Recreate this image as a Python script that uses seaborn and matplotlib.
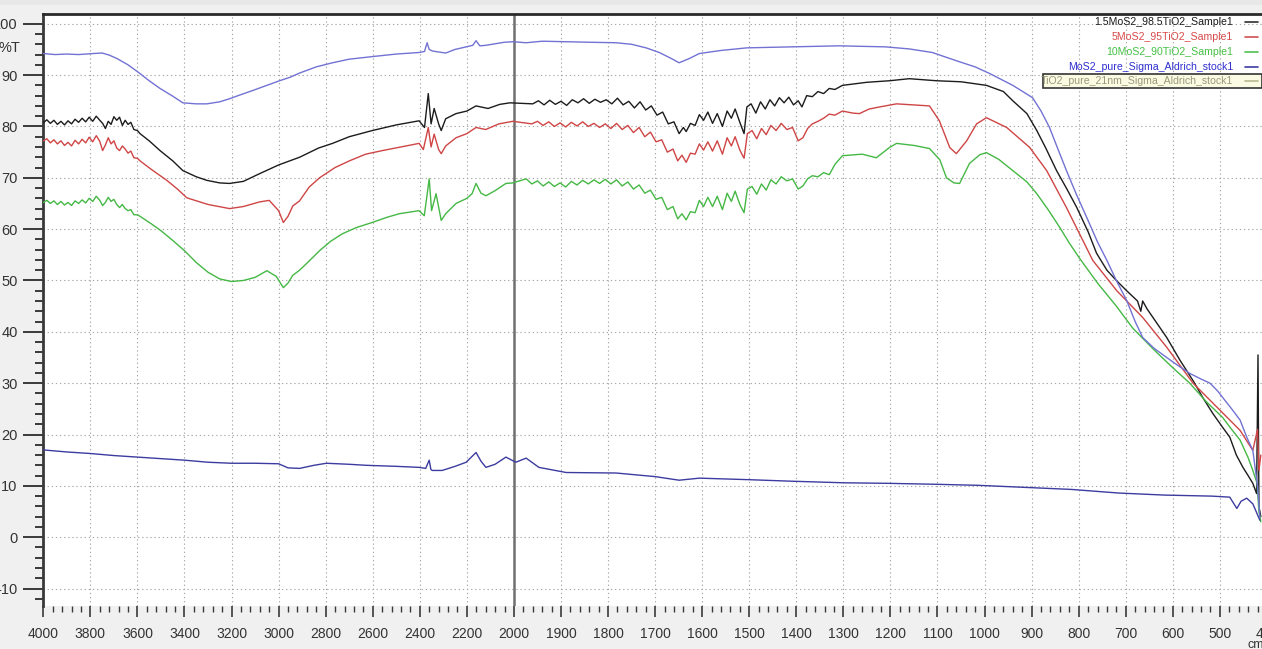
import numpy as np
import pandas as pd
import matplotlib
matplotlib.use("Agg")
import matplotlib.pyplot as plt
from matplotlib import font_manager
from matplotlib.ticker import FixedLocator, FixedFormatter
from matplotlib.lines import Line2D
from matplotlib.patches import Rectangle
import seaborn as sns

# ---------------- data ----------------
series_names = [
    "1.5MoS2_98.5TiO2_Sample1",
    "5MoS2_95TiO2_Sample1",
    "10MoS2_90TiO2_Sample1",
    "MoS2_pure_Sigma_Aldrich_stock1",
    "TiO2_pure_21nm_Sigma_Aldrich_stock1",
]

wn_black = [4000, 3985, 3970, 3955, 3940, 3925, 3910, 3895, 3880, 3865, 3850, 3835, 3820, 3805, 3790,
            3775, 3760, 3748, 3736, 3724, 3712, 3700, 3688, 3676, 3664, 3652, 3640, 3628, 3615, 3600,
            3589, 3550, 3504, 3450, 3407, 3350, 3305, 3250, 3208, 3150, 3081, 3000, 2911, 2830, 2771,
            2700, 2602, 2500, 2403, 2380, 2364, 2352, 2339, 2320, 2309, 2290, 2246, 2200, 2161, 2110,
            2060, 2017,
            1960, 1948, 1936, 1924, 1912, 1900, 1888, 1876, 1864, 1852, 1840, 1828, 1816, 1804, 1792,
            1780, 1768, 1756, 1744, 1732, 1720, 1708, 1696, 1684, 1672, 1660, 1649, 1640, 1634, 1625,
            1615, 1606, 1597, 1588, 1578, 1568, 1557, 1547, 1538, 1530, 1520, 1511, 1505, 1496, 1486,
            1476, 1466, 1456, 1446, 1436, 1426, 1416, 1406, 1396, 1388, 1378, 1366, 1354, 1342, 1330,
            1318, 1302, 1250, 1202, 1160, 1102, 1050, 996, 960, 940, 910, 889, 870, 847, 825, 804, 780,
            762, 740, 720, 698, 675, 668, 664, 655, 613, 585, 557, 535, 515, 495, 479, 465, 451, 440,
            430, 422, 419, 417, 413]
t_black = [80.7, 81.3, 80.6, 81.2, 80.4, 81.0, 80.3, 81.1, 80.5, 81.4, 80.8, 81.6, 80.9, 81.8, 81.0,
           82.0, 81.2, 80.6, 79.6, 81.0, 80.4, 81.9, 81.2, 81.8, 80.2, 81.2, 80.4, 80.8, 79.4, 79.2,
           78.6, 77.2, 75.3, 73.3, 71.4, 70.2, 69.5, 69.0, 68.9, 69.3, 70.8, 72.5, 74.0, 75.8, 76.7,
           78.0, 79.2, 80.3, 81.1, 79.8, 86.4, 80.5, 83.5, 80.5, 79.2, 81.5, 82.5, 83.0, 84.0, 83.5,
           84.3, 84.6,
           84.4, 85.0, 84.2, 85.1, 84.3, 84.9, 84.1, 85.2, 84.6, 85.4, 84.5, 85.3, 84.7, 85.2, 84.4,
           85.5, 84.2, 84.9, 83.6, 84.8, 83.2, 84.0, 82.2, 82.8, 80.5, 80.9, 78.6, 79.8, 79.0, 80.6,
           80.2, 82.3, 81.2, 82.8, 80.6, 82.5, 80.0, 83.0, 81.6, 83.4, 80.8, 78.6, 83.8, 84.4, 82.6,
           84.8, 83.4, 85.2, 84.0, 85.6, 84.6, 85.7, 84.2, 85.0, 83.8, 86.0, 85.8, 86.8, 86.4, 87.4,
           87.2, 88.0, 88.6, 88.9, 89.3, 88.9, 88.7, 88.0, 86.8, 85.0, 82.5, 79.2, 75.8, 71.4, 67.8,
           64.2, 59.5, 55.3, 52.0, 50.0, 48.0, 46.0, 44.0, 46.0, 44.5, 38.9, 34.5, 30.5, 27.0, 24.1,
           21.5, 19.5, 16.0, 13.6, 12.0, 10.5, 8.5, 35.5, 6.0, 4.0]

wn_red = [4000, 3985, 3970, 3955, 3940, 3925, 3910, 3895, 3880, 3865, 3850, 3835, 3820, 3805, 3790,
          3775, 3760, 3748, 3736, 3724, 3712, 3700, 3688, 3676, 3664, 3652, 3640, 3628, 3615, 3600,
          3589, 3540, 3475, 3430, 3390, 3300, 3208, 3150, 3081, 3040, 3000, 2980, 2960, 2940, 2911,
          2870, 2826, 2760, 2699, 2630, 2559, 2480, 2403, 2385, 2364, 2352, 2339, 2320, 2309, 2290,
          2246, 2200, 2161, 2120, 2064, 2005,
          1962, 1950, 1938, 1926, 1914, 1902, 1890, 1878, 1866, 1854, 1842, 1830, 1818, 1806, 1794,
          1782, 1770, 1758, 1746, 1734, 1722, 1710, 1698, 1686, 1674, 1662, 1652, 1643, 1634, 1625,
          1615, 1606, 1597, 1588, 1578, 1568, 1557, 1547, 1538, 1530, 1520, 1511, 1504, 1494, 1484,
          1474, 1464, 1454, 1443, 1432, 1420, 1408, 1396, 1386, 1376, 1366, 1354, 1342, 1330, 1318,
          1302, 1280, 1266, 1245, 1223, 1187, 1117, 1096, 1074, 1060, 1038, 1017, 996, 953, 904, 868,
          826, 770, 719, 664, 613, 557, 506, 457, 430, 420, 417, 413]
t_red = [77.2, 77.6, 76.8, 77.4, 76.6, 77.2, 76.3, 76.9, 76.2, 77.3, 76.6, 77.5, 76.8, 77.9, 77.0,
         78.2, 77.1, 75.3, 76.4, 77.8, 76.6, 77.2, 75.8, 75.3, 76.2, 75.6, 74.8, 75.2, 73.9, 73.8,
         73.3, 71.6, 69.5, 67.8, 66.1, 64.8, 64.0, 64.4, 65.3, 65.6, 63.6, 61.3, 62.5, 64.5, 65.5,
         68.2, 70.0, 72.0, 73.3, 74.6, 75.3, 76.0, 76.7, 75.5, 79.8, 76.0, 78.5, 75.5, 74.7, 76.2,
         77.8, 78.6, 79.8, 79.4, 80.5, 81.0,
         80.5, 81.0, 80.2, 80.9, 80.0, 80.7, 79.9, 80.8, 80.1, 80.9, 80.0, 80.6, 79.8, 80.5, 79.6,
         80.6, 79.4, 80.2, 78.8, 79.8, 78.0, 78.9, 77.0, 77.4, 75.0, 75.6, 73.3, 74.4, 73.0, 74.8,
         74.6, 76.6, 75.4, 77.0, 75.2, 77.2, 74.6, 77.8, 76.2, 78.0, 75.4, 73.8, 78.6, 79.2, 77.6,
         79.6, 78.4, 80.2, 79.2, 80.6, 79.4, 79.8, 77.2, 77.8, 79.6, 80.5, 81.0, 81.6, 82.4, 82.2,
         83.0, 82.6, 82.5, 83.4, 83.8, 84.4, 84.0, 81.1, 75.9, 74.7, 77.2, 80.5, 81.7, 79.8, 75.9, 71.4,
         64.2, 53.9, 48.0, 42.8, 37.0, 30.0, 25.3, 20.8, 16.9, 21.0, 13.0, 16.0]

wn_green = [4000, 3985, 3970, 3955, 3940, 3925, 3910, 3895, 3880, 3865, 3850, 3835, 3820, 3805, 3790,
            3775, 3760, 3748, 3736, 3724, 3712, 3700, 3688, 3676, 3664, 3652, 3640, 3628, 3615, 3600,
            3589, 3540, 3500, 3450, 3400, 3350, 3300, 3250, 3200, 3150, 3100, 3050, 3010, 2980, 2960,
            2940, 2911, 2870, 2826, 2780, 2729, 2670, 2602, 2540, 2487, 2403, 2381, 2360, 2350, 2331,
            2309, 2290, 2246, 2200, 2178, 2161, 2140, 2119, 2080, 2034, 2005,
            1974, 1962, 1950, 1938, 1926, 1914, 1902, 1890, 1878, 1866, 1854, 1842, 1830, 1818, 1806,
            1794, 1782, 1770, 1758, 1746, 1734, 1722, 1710, 1698, 1686, 1674, 1662, 1652, 1643, 1634,
            1625, 1615, 1606, 1597, 1588, 1578, 1568, 1557, 1547, 1538, 1530, 1520, 1511, 1504, 1494,
            1484, 1474, 1464, 1454, 1443, 1432, 1420, 1408, 1396, 1386, 1376, 1366, 1354, 1342, 1330,
            1318, 1302, 1260, 1230, 1202, 1187, 1150, 1117, 1095, 1081, 1065, 1053, 1032, 1010, 996,
            970, 940, 910, 889, 865, 840, 820, 798, 760, 720, 685, 640, 600, 564, 530, 494, 475, 457,
            440, 430, 421, 417, 413]
t_green = [65.2, 65.6, 65.0, 65.5, 64.8, 65.4, 64.7, 65.2, 64.6, 65.5, 65.0, 65.7, 65.1, 66.0, 65.4,
           66.4, 65.6, 64.6, 65.2, 66.2, 65.4, 65.8, 64.8, 64.2, 64.8, 64.0, 63.6, 63.8, 62.8, 62.8,
           62.5, 61.0, 59.7, 57.8, 55.8, 53.5, 51.6, 50.3, 49.8, 50.0, 50.6, 51.9, 50.8, 48.6, 49.5,
           51.0, 52.0, 53.8, 55.8, 57.6, 59.1, 60.3, 61.3, 62.3, 63.0, 63.6, 62.6, 69.8, 63.6, 66.9,
           61.7, 63.0, 65.0, 66.0, 66.9, 68.9, 67.0, 66.5, 67.5, 68.9, 69.0,
           69.8, 68.8, 69.4, 68.4, 69.2, 68.3, 69.0, 68.2, 69.3, 68.6, 69.5, 68.8, 69.6, 68.9, 69.7,
           68.8, 69.6, 68.4, 69.2, 67.8, 68.6, 67.0, 67.6, 65.8, 66.2, 63.8, 64.4, 62.0, 63.0, 61.8,
           63.4, 63.2, 65.6, 64.4, 66.2, 64.4, 66.4, 63.8, 67.0, 65.4, 67.4, 64.8, 63.2, 67.8, 68.3,
           66.8, 68.8, 67.6, 69.6, 68.8, 70.2, 69.4, 69.8, 67.8, 68.4, 69.8, 70.4, 70.2, 71.0, 70.6,
           72.6, 74.3, 74.6, 73.9, 75.9, 76.7, 76.3, 75.7, 73.5, 70.0, 69.0, 68.9, 72.8, 74.5, 74.9,
           73.6, 71.4, 69.2, 66.9, 63.8, 60.3, 57.3, 54.3, 49.5, 45.0, 40.7, 36.5, 33.0, 30.0, 26.5,
           23.3, 21.0, 18.9, 15.5, 13.0, 10.5, 5.0, 3.0]

wn_mos2 = [4000, 3900, 3800, 3700, 3600, 3500, 3400, 3300, 3200, 3100, 3000, 2960, 2911, 2850, 2797,
           2700, 2627, 2500, 2403, 2375, 2360, 2353, 2347, 2305, 2250, 2203, 2161, 2140, 2119, 2080,
           2034, 1996, 1974, 1947, 1889, 1783, 1700, 1649, 1606, 1500, 1409, 1300, 1211, 1100, 1013,
           913, 815, 715, 617, 517, 479, 464, 455, 443, 430, 415]
t_mos2 = [17.0, 16.6, 16.3, 15.9, 15.6, 15.3, 15.0, 14.6, 14.4, 14.4, 14.3, 13.5, 13.4, 14.0, 14.4,
          14.2, 14.0, 13.8, 13.6, 13.4, 15.0, 13.2, 13.0, 13.0, 13.8, 14.6, 16.5, 14.8, 13.6, 14.2,
          15.6, 14.6, 15.4, 13.6, 12.6, 12.5, 11.8, 11.1, 11.5, 11.2, 10.9, 10.6, 10.5, 10.3, 10.1,
          9.7, 9.3, 8.6, 8.2, 8.0, 7.8, 5.6, 7.0, 7.6, 6.5, 3.3]

wn_tio2 = [4000, 3950, 3900, 3850, 3788, 3750, 3720, 3686, 3640, 3589, 3550, 3504, 3450, 3407, 3350,
           3305, 3250, 3208, 3160, 3110, 3050, 2996, 2950, 2911, 2840, 2771, 2700, 2602, 2500, 2403,
           2380, 2369, 2360, 2347, 2320, 2290, 2250, 2203, 2175, 2161, 2145, 2119, 2080, 2040, 2004,
           1974, 1940, 1889, 1840, 1783, 1750, 1719, 1691, 1665, 1649, 1628, 1606, 1560, 1506, 1460,
           1409, 1360, 1309, 1260, 1211, 1160, 1111, 1060, 1020, 989, 940, 898, 880, 862, 845, 826,
           805, 783, 760, 740, 720, 698, 680, 664, 640, 613, 590, 564, 540, 521, 505, 494, 475, 457,
           443, 430, 420, 415]
t_tio2 = [94.2, 94.0, 94.1, 94.0, 94.2, 94.3, 93.9, 93.2, 92.0, 90.3, 88.9, 87.4, 85.9, 84.6, 84.4,
          84.4, 84.8, 85.4, 86.2, 87.0, 88.0, 88.9, 89.6, 90.4, 91.6, 92.4, 93.1, 93.6, 94.1, 94.4,
          94.6, 96.3, 95.0, 94.7, 94.5, 94.3, 95.0, 95.5, 95.8, 96.7, 95.7, 95.8, 96.1, 96.4, 96.5,
          96.3, 96.6, 96.5, 96.4, 96.3, 96.0, 95.3, 94.4, 93.2, 92.4, 93.2, 94.2, 94.8, 95.3, 95.4,
          95.5, 95.6, 95.7, 95.6, 95.5, 95.1, 94.4, 92.8, 91.6, 90.3, 88.0, 85.6, 83.0, 79.8, 75.8,
          71.4, 66.8, 62.3, 57.5, 53.9, 50.0, 46.1, 42.0, 38.9, 36.8, 35.0, 33.5, 31.9, 30.8, 30.0,
          28.5, 27.2, 25.0, 22.8, 19.5, 16.9, 10.0, 3.9]

x_major = [4000, 3800, 3600, 3400, 3200, 3000, 2800, 2600, 2400, 2200, 2000,
           1900, 1800, 1700, 1600, 1500, 1400, 1300, 1200, 1100, 1000, 900, 800, 700, 600, 500, 400]
y_major = [-10, 0, 10, 20, 30, 40, 50, 60, 70, 80, 90, 100]

line_colors = ["#1c1c1c", "#cf4545", "#45b845", "#3c3ca0", "#7272d4"]
legend_text_colors = ["#1c1c1c", "#d84a4a", "#44c044", "#2e2ed0", "#9a9a78"]
legend_line_colors = ["#303030", "#d05050", "#50c050", "#3c3ca0", "#b8b890"]

# ---------------- figure ----------------
sns.set_theme(style="white")
names = [f.name for f in font_manager.fontManager.ttflist]
narrow = "Liberation Sans Narrow" if "Liberation Sans Narrow" in names else "Liberation Sans"
plt.rcParams["font.family"] = [narrow, "DejaVu Sans"]

W, H = 1262, 649
AX_RIGHT_PX = 1290.0   # the plot continues a little past the picture's right edge
fig = plt.figure(figsize=(W / 100, H / 100), dpi=100, facecolor="#f0f0f0")
ax = fig.add_axes([43.3 / W, 1 - 606 / H, (AX_RIGHT_PX - 43.3) / W, (606 - 14) / H])
ax.set_facecolor("white")


def fwd(x):
    x = np.asarray(x, dtype=float)
    return np.where(x > 2000, 2000 + (x - 2000) * 0.5, x)


def inv(u):
    u = np.asarray(u, dtype=float)
    return np.where(u > 2000, 2000 + (u - 2000) * 2.0, u)


ax.set_xscale("function", functions=(fwd, inv))

frames = []
for name, wn, t in [
    (series_names[0], wn_black, t_black),
    (series_names[1], wn_red, t_red),
    (series_names[2], wn_green, t_green),
    (series_names[3], wn_mos2, t_mos2),
    (series_names[4], wn_tio2, t_tio2),
]:
    frames.append(pd.DataFrame({"wn": wn, "T": t, "sample": name}))
df = pd.concat(frames, ignore_index=True)

sns.lineplot(data=df, x="wn", y="T", hue="sample", hue_order=series_names,
             palette=dict(zip(series_names, line_colors)), estimator=None,
             sort=True, legend=False, linewidth=1.0, ax=ax, zorder=3)

ax.set_xlim(4000, 351)
ax.set_ylim(-13.4, 101.9)
ax.set_xlabel("")
ax.set_ylabel("")

# ticks
ax.xaxis.set_major_locator(FixedLocator(x_major))
ax.xaxis.set_major_formatter(FixedFormatter([str(v) for v in x_major]))
x_minor = list(range(4000, 2000, -40)) + list(range(2000, 360, -20))
ax.xaxis.set_minor_locator(FixedLocator(x_minor))
ax.yaxis.set_major_locator(FixedLocator(y_major))
ax.yaxis.set_major_formatter(FixedFormatter([str(v) for v in y_major]))
ax.yaxis.set_minor_locator(FixedLocator(list(range(-12, 102, 2))))

ax.tick_params(axis="y", which="major", direction="out", length=14.5, width=1.4,
               color="#3a3a3a", labelsize=10.5, pad=4, labelcolor="#333333", left=True)
ax.tick_params(axis="y", which="minor", direction="out", length=6, width=1.4,
               color="#3a3a3a", left=True)
ax.tick_params(axis="x", which="major", direction="out", length=8, width=1.2,
               color="#3a3a3a", labelsize=10, pad=7, labelcolor="#333333", bottom=True)
ax.tick_params(axis="x", which="minor", direction="out", length=4.5, width=1.0,
               color="#3a3a3a", bottom=True)

# grid
for xv in x_major:
    ax.axvline(xv, color="#a8a8a8", lw=0.8, ls=(0, (1.2, 2.5)), zorder=1)
for yv in y_major:
    ax.axhline(yv, color="#a8a8a8", lw=0.8, ls=(0, (1.2, 2.5)), zorder=1)

# scale-break marker at 2000
ax.axvline(2000, color="#707070", lw=1.8, zorder=2)

# spines
for s in ["right", "bottom"]:
    ax.spines[s].set_visible(False)
ax.spines["left"].set_color("#3a3a3a")
ax.spines["left"].set_linewidth(2.0)
ax.spines["top"].set_color("#2a2a2a")
ax.spines["top"].set_linewidth(2.0)

# axis unit labels
fig.text(20 / W, 1 - 48 / H, "%T", ha="right", va="center", fontsize=10.5, color="#333333")
fig.text(1247 / W, 1 - 645 / H, "cm-1", ha="left", va="center", fontsize=9, color="#333333")

# light top band
fig.patches.append(Rectangle((0, 1 - 5 / H), 1, 5 / H, transform=fig.transFigure,
                             facecolor="#e8e8e8", edgecolor="none", zorder=0))

# legend (right-aligned texts, line samples on the right)
row_y = [21.7, 36.7, 51.7, 66.7, 81.0]
fig.patches.append(Rectangle((1043 / W, 1 - 88 / H), (W - 1043) / W, 14 / H,
                             transform=fig.transFigure, facecolor="#fbfbe4",
                             edgecolor="#333333", lw=1.2, zorder=4))
for i, name in enumerate(series_names):
    yy = 1 - row_y[i] / H
    txt = name
    fig.text(1233 / W, yy, txt, ha="right", va="center", fontsize=7.6,
             color=legend_text_colors[i], zorder=5)
    fig.lines.append(Line2D([1245 / W, 1258 / W], [yy, yy], transform=fig.transFigure,
                            color=legend_line_colors[i], lw=1.2, zorder=5))

fig.savefig("out.png", dpi=100, facecolor=fig.get_facecolor())
